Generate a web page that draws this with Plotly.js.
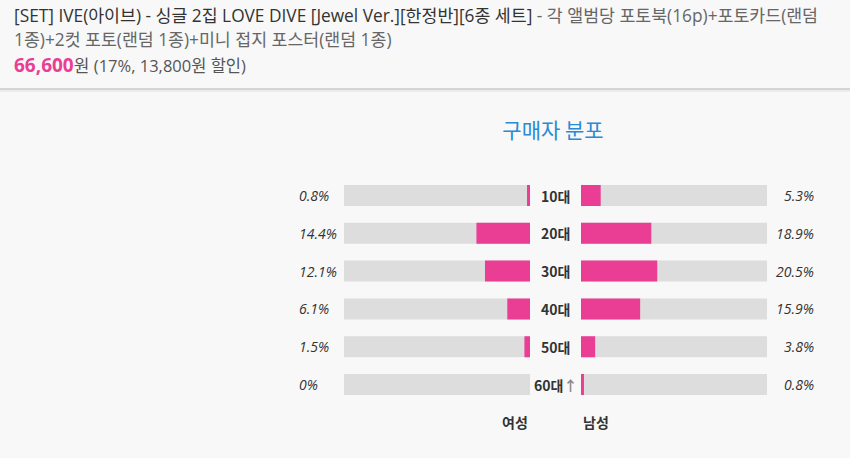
<!DOCTYPE html>
<html>
<head>
<meta charset="utf-8">
<script src="https://cdn.plot.ly/plotly-3.0.1.min.js"></script>
<style>
  html, body { margin: 0; padding: 0; background: #f8f8f8; }
  #chart { width: 850px; height: 458px; }
</style>
</head>
<body>
<div id="chart"></div>
<script>
// ---- data ----
const ages = ['10대', '20대', '30대', '40대', '50대', '60대↑'];
const female = [0.8, 14.4, 12.1, 6.1, 1.5, 0];
const male = [5.3, 18.9, 20.5, 15.9, 3.8, 0.8];
const MAX_PCT = 50;
const chartTitle = '구매자 분포';
const femaleLabel = '여성';
const maleLabel = '남성';
const productTitle = '[SET] IVE(아이브) - 싱글 2집 LOVE DIVE [Jewel Ver.][한정반][6종 세트]';
const productDesc1 = ' - 각 앨범당 포토북(16p)+포토카드(랜덤';
const productDesc2 = '1종)+2컷 포토(랜덤 1종)+미니 접지 포스터(랜덤 1종)';
const price = '66,600';
const priceUnit = '원';
const discount = '(17%, 13,800원 할인)';

// ---- styling ----
const W = 850, H = 458;
const PINK = '#e93e94';
const TRACK = '#dddddd';
const KR = '"Noto Sans CJK KR", "Noto Sans", sans-serif';
const HEAD = '"Open Sans", "Noto Sans CJK KR", sans-serif';
const px = v => v / W;
const py = v => 1 - v / H;

const ageLabel = a => a.endsWith('↑') ? a.slice(0, -1) + '<span style="color:#888">↑</span>' : a;
const fmt = v => String(v) + '%';

const track = ages.map(() => MAX_PCT);
const barW = 0.556;

const traces = [
  { type: 'bar', orientation: 'h', y: ages, x: track, xaxis: 'x', yaxis: 'y',
    marker: { color: TRACK }, width: barW, hoverinfo: 'skip', showlegend: false },
  { type: 'bar', orientation: 'h', y: ages, x: female, xaxis: 'x', yaxis: 'y',
    marker: { color: PINK }, width: barW, hoverinfo: 'skip', showlegend: false },
  { type: 'bar', orientation: 'h', y: ages, x: track, xaxis: 'x2', yaxis: 'y',
    marker: { color: TRACK }, width: barW, hoverinfo: 'skip', showlegend: false },
  { type: 'bar', orientation: 'h', y: ages, x: male, xaxis: 'x2', yaxis: 'y',
    marker: { color: PINK }, width: barW, hoverinfo: 'skip', showlegend: false }
];

const annotations = [];
ages.forEach((a, i) => {
  annotations.push({ xref: 'paper', yref: 'y', x: px(297), y: a, xanchor: 'left', yanchor: 'middle',
    text: '<i>' + fmt(female[i]) + '</i>', showarrow: false,
    font: { family: '"Open Sans", sans-serif', size: 14, color: '#333' } });
  annotations.push({ xref: 'paper', yref: 'y', x: px(816), y: a, xanchor: 'right', yanchor: 'middle',
    text: '<i>' + fmt(male[i]) + '</i>', showarrow: false,
    font: { family: '"Open Sans", sans-serif', size: 14, color: '#333' } });
  annotations.push({ xref: 'paper', yref: 'y', x: px(555.5), y: a, xanchor: 'center', yanchor: 'middle',
    text: '<b>' + ageLabel(a) + '</b>', showarrow: false,
    font: { family: KR, size: 14, color: '#333' } });
});
annotations.push({ xref: 'paper', yref: 'paper', x: px(530), y: py(422), xanchor: 'right', yanchor: 'middle',
  text: '<b>' + femaleLabel + '</b>', showarrow: false, font: { family: KR, size: 14, color: '#333' } });
annotations.push({ xref: 'paper', yref: 'paper', x: px(581), y: py(422), xanchor: 'left', yanchor: 'middle',
  text: '<b>' + maleLabel + '</b>', showarrow: false, font: { family: KR, size: 14, color: '#333' } });

// header
annotations.push({ xref: 'paper', yref: 'paper', x: px(12), y: py(16), xanchor: 'left', yanchor: 'middle',
  text: '<span style="color:#333">' + productTitle + '</span>' + productDesc1, showarrow: false,
  font: { family: HEAD, size: 17.3, color: '#666' } });
annotations.push({ xref: 'paper', yref: 'paper', x: px(12), y: py(40), xanchor: 'left', yanchor: 'middle',
  text: productDesc2, showarrow: false, font: { family: HEAD, size: 17.3, color: '#666' } });
annotations.push({ xref: 'paper', yref: 'paper', x: px(12), y: py(65), xanchor: 'left', yanchor: 'middle',
  text: '<b><span style="color:' + PINK + ';font-size:19px">' + price + '</span></b>' + priceUnit +
        ' <span style="font-size:16.5px">' + discount + '</span>',
  showarrow: false, font: { family: HEAD, size: 17, color: '#555' } });

const layout = {
  width: W, height: H,
  margin: { l: 0, r: 0, t: 0, b: 0 },
  paper_bgcolor: '#f8f8f8', plot_bgcolor: 'rgba(0,0,0,0)',
  barmode: 'overlay',
  showlegend: false,
  title: { text: chartTitle, x: px(553), xref: 'paper', xanchor: 'center', y: py(131), yref: 'paper', yanchor: 'middle',
    font: { family: KR, size: 21, color: '#2a8ad4' } },
  xaxis: { domain: [px(344), px(530)], range: [MAX_PCT, 0], visible: false, fixedrange: true },
  xaxis2: { domain: [px(581), px(767)], range: [0, MAX_PCT], visible: false, fixedrange: true, anchor: 'y' },
  yaxis: { domain: [py(403.4), py(176.6)], range: [ages.length - 0.5, -0.5], type: 'category',
    categoryorder: 'array', categoryarray: ages, visible: false, fixedrange: true },
  shapes: [
    { type: 'line', xref: 'paper', yref: 'paper', x0: 0, x1: 1, y0: py(89), y1: py(89), line: { color: '#d4d4d4', width: 2 } },
    { type: 'line', xref: 'paper', yref: 'paper', x0: 0, x1: 1, y0: py(91), y1: py(91), line: { color: '#e8e8e8', width: 1.5 } }
  ],
  annotations: annotations
};

Plotly.newPlot('chart', traces, layout, { displayModeBar: false, staticPlot: true });
</script>
</body>
</html>
